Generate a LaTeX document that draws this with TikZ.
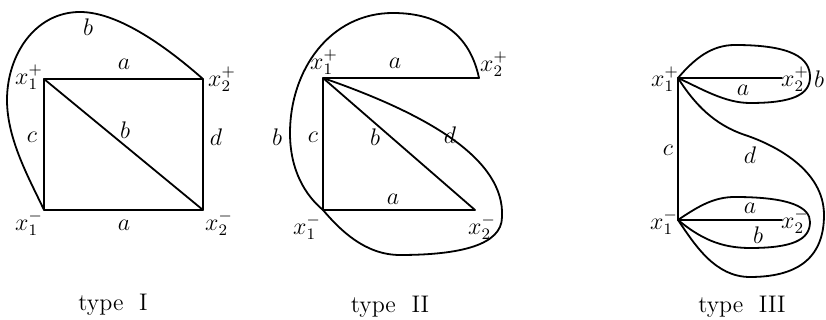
\documentclass[tikz,border=0pt]{standalone}
\begin{document}
\begin{tikzpicture}[x=0.5pt,y=0.5pt,
  edge/.style={line width=0.9pt,line join=round,line cap=round},
  lbl/.style={inner sep=0pt,font=\fontsize{11.5}{14}\selectfont},
  captxt/.style={inner sep=0pt,font=\fontsize{12}{14}\selectfont}]
\useasboundingbox (0,0) rectangle (826,320);
% ---------------- type I ----------------
\coordinate (Ap) at (44,241);
\coordinate (Bp) at (203,241);
\coordinate (Am) at (44,110);
\coordinate (Bm) at (203,110);
\draw[edge] (Ap) -- (Bp) -- (Bm) -- (Am) -- cycle;
\draw[edge] (Ap) -- (Bm);
\draw[edge] (Am) .. controls (30,140) and (7,180) .. (7,220)
  .. controls (7,265) and (35,308) .. (80,308)
  .. controls (120,308) and (170,270) .. (Bp);
\node[lbl] (IAp) at (29,243) {$x_1^+$};
\node[lbl] (IBp) at (222,241) {$x_2^+$};
\node[lbl] (IAm) at (29,97) {$x_1^-$};
\node[lbl] (IBm) at (219,97) {$x_2^-$};
\node[lbl] (Ia1) at (124,256) {$a$};
\node[lbl] (Ia2) at (124,95) {$a$};
\node[lbl] (Ic) at (32,183) {$c$};
\node[lbl] (Id) at (216,183) {$d$};
\node[lbl] (Ib1) at (125,190) {$b$};
\node[lbl] (Ib2) at (88,293) {$b$};
\node[captxt] (capI) at (113,15) {type\ \ I};
% ---------------- type II ----------------
\coordinate (Cp) at (323,242);
\coordinate (Dp) at (479,242);
\coordinate (Cm) at (323,110);
\coordinate (Dm) at (475,110);
\draw[edge] (Dp) -- (Cp) -- (Cm) -- (Dm) -- (Cp);
\draw[edge] (Dp) .. controls (470,285) and (440,307) .. (393,307)
  .. controls (330,307) and (290,250) .. (290,187)
  .. controls (290,150) and (305,125) .. (Cm);
\draw[edge] (Cp) .. controls (430,205) and (505,160) .. (502,103)
  .. controls (502,75) and (460,65) .. (400,65)
  .. controls (365,65) and (340,90) .. (Cm);
\node[lbl] (IICp) at (324,258) {$x_1^+$};
\node[lbl] (IIDp) at (494,256) {$x_2^+$};
\node[lbl] (IICm) at (307,93) {$x_1^-$};
\node[lbl] (IIDm) at (482,93) {$x_2^-$};
\node[lbl] (IIa1) at (395,257) {$a$};
\node[lbl] (IIa2) at (393,121) {$a$};
\node[lbl] (IIb1) at (277,183) {$b$};
\node[lbl] (IIc) at (313,183) {$c$};
\node[lbl] (IIb2) at (375,183) {$b$};
\node[lbl] (IId) at (450,185) {$d$};
\node[captxt] (capII) at (390,13) {type\ \ II};
% ---------------- type III ----------------
\coordinate (Ep) at (678,242);
\coordinate (Fp) at (782,242);
\coordinate (Em) at (678,100);
\coordinate (Fm) at (782,100);
\draw[edge] (Ep) -- (Fp);
\draw[edge] (Em) -- (Fm);
\draw[edge] (Ep) -- (Em);
\draw[edge] (Ep) .. controls (695,262) and (712,275) .. (735,275)
  .. controls (792,275) and (810,262) .. (810,243)
  .. controls (810,225) and (792,217) .. (750,217)
  .. controls (725,217) and (702,231) .. (Ep);
\draw[edge] (Em) .. controls (700,115) and (715,123) .. (735,123)
  .. controls (792,123) and (810,112) .. (810,98)
  .. controls (810,80) and (792,72) .. (750,72)
  .. controls (720,72) and (700,82) .. (Em);
\draw[edge] (Ep) .. controls (695,215) and (715,195) .. (745,185)
  .. controls (775,175) and (824,150) .. (824,105)
  .. controls (824,60) and (795,43) .. (750,43)
  .. controls (715,43) and (695,75) .. (Em);
\node[lbl] (IIIEp) at (665,241) {$x_1^+$};
\node[lbl] (IIIFp) at (795,241) {$x_2^+$};
\node[lbl] (IIIb1) at (819,241) {$b$};
\node[lbl] (IIIa1) at (743,230) {$a$};
\node[lbl] (IIIEm) at (664,98) {$x_1^-$};
\node[lbl] (IIIFm) at (795,99) {$x_2^-$};
\node[lbl] (IIIa2) at (750,112) {$a$};
\node[lbl] (IIIb2) at (758,85) {$b$};
\node[lbl] (IIIc) at (668,170) {$c$};
\node[lbl] (IIId) at (750,165) {$d$};
\node[captxt] (capIII) at (742,13) {type\ \ III};
\end{tikzpicture}
\end{document}
